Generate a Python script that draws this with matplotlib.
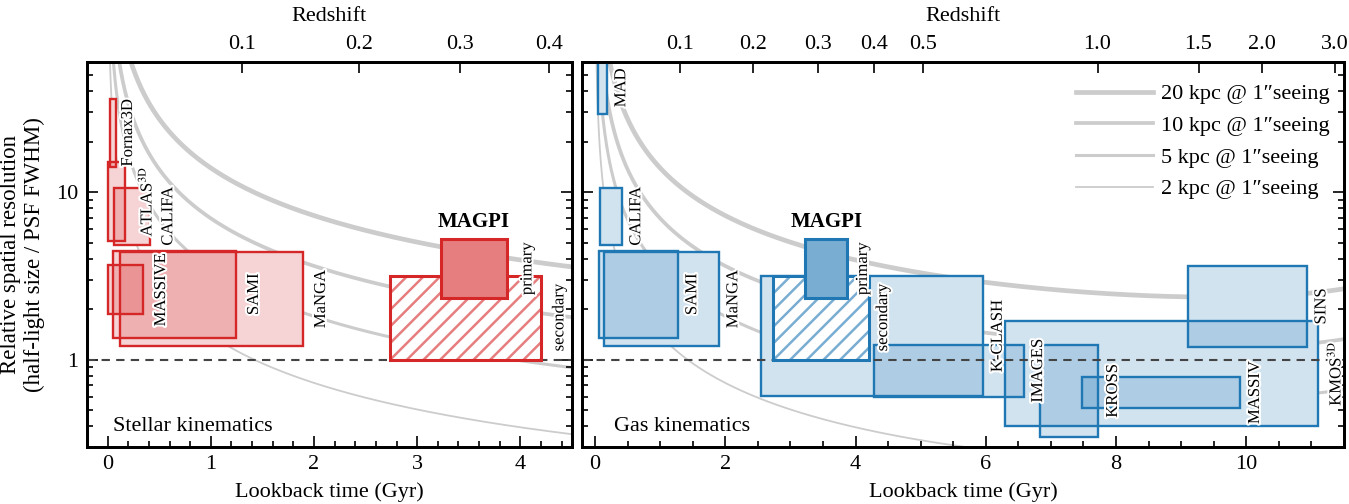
import numpy as np
import matplotlib
matplotlib.use('Agg')
import matplotlib.pyplot as plt
from matplotlib.patches import Rectangle
from matplotlib.lines import Line2D
import matplotlib.patheffects as pe
from matplotlib.ticker import LogLocator, NullFormatter, MultipleLocator

plt.rcParams['font.family'] = ['Liberation Serif', 'DejaVu Serif']
plt.rcParams['mathtext.fontset'] = 'stix'
plt.rcParams['hatch.linewidth'] = 1.8

# ---------------- data ----------------
stellar_names = ['Fornax3D', r'ATLAS$^{\rm 3D}$', 'CALIFA', 'MASSIVE', 'SAMI', 'MaNGA']
stellar_t0 = [0.02, 0.00, 0.06, 0.00, 0.05, 0.12]
stellar_t1 = [0.08, 0.17, 0.41, 0.34, 1.24, 1.89]
stellar_r0 = [14.2, 5.1, 4.85, 1.86, 1.35, 1.20]
stellar_r1 = [36.0, 15.1, 10.6, 3.65, 4.45, 4.39]
stellar_dx = [0.04, 0.1, 0.1, 0.1, 0.1, 0.1]

gas_names = ['MAD', 'CALIFA', 'SAMI', 'MaNGA', 'K-CLASH', 'IMAGES', 'KROSS',
             'MASSIV', r'KMOS$^{\rm 3D}$', 'SINS']
gas_t0 = [0.04, 0.07, 0.06, 0.14, 2.55, 4.28, 6.83, 7.47, 6.30, 9.11]
gas_t1 = [0.18, 0.41, 1.27, 1.90, 5.96, 6.58, 7.73, 9.91, 11.10, 10.93]
gas_r0 = [29.4, 4.85, 1.35, 1.20, 0.607, 0.60, 0.345, 0.51, 0.40, 1.19]
gas_r1 = [100.0, 10.6, 4.45, 4.39, 3.14, 1.22, 1.22, 0.787, 1.69, 3.62]

magpi_primary_t = [3.23, 3.87]
magpi_primary_r = [2.33, 5.22]
magpi_secondary_t = [2.74, 4.20]
magpi_secondary_r = [1.0, 3.17]

curve_sizes_kpc = [20, 10, 5, 2]
curve_lw = [3.4, 2.7, 2.2, 1.3]
curve_labels = ['20 kpc @ 1\u2033seeing', '10 kpc @ 1\u2033seeing',
                '5 kpc @ 1\u2033seeing', '2 kpc @ 1\u2033seeing']

z_ticks_left = [0.1, 0.2, 0.3, 0.4]
z_ticks_right = [0.1, 0.2, 0.3, 0.4, 0.5, 1.0, 1.5, 2.0, 3.0]
z_labels_left = ['0.1', '0.2', '0.3', '0.4']
z_labels_right = ['0.1', '0.2', '0.3', '0.4', '0.5', '1.0', '1.5', '2.0', '3.0']

# ---------------- cosmology (flat LCDM) ----------------
H0, Om = 70.0, 0.3
zgrid = np.linspace(0, 8, 80001)
dz = zgrid[1] - zgrid[0]
E = np.sqrt(Om * (1 + zgrid) ** 3 + 1 - Om)


def cumtrapz(f):
    out = np.zeros_like(f)
    out[1:] = np.cumsum(0.5 * (f[1:] + f[:-1]) * dz)
    return out


lookback = 977.79 / H0 * cumtrapz(1 / ((1 + zgrid) * E))
DC = 299792.458 / H0 * cumtrapz(1 / E)
DA = DC / (1 + zgrid)
kpc_per_arcsec = DA * 1000 * np.pi / 648000.0


def t_of_z(z):
    return np.interp(z, zgrid, lookback)


RED = '#d62728'
BLUE = '#1f77b4'
YLIM = (0.3, 60)
FS = 16


def blend(c, a):
    rgb = np.array(matplotlib.colors.to_rgb(c))
    return tuple(a * rgb + (1 - a) * np.ones(3))


stroke = [pe.withStroke(linewidth=3, foreground='white')]


def draw_box(ax, t0, t1, r0, r1, color, lw=1.7):
    w, h = t1 - t0, r1 - r0
    ax.add_patch(Rectangle((t0, r0), w, h, facecolor='white', edgecolor='none', zorder=2))
    ax.add_patch(Rectangle((t0, r0), w, h, facecolor=color, alpha=0.2, edgecolor='none', zorder=3))
    ax.add_patch(Rectangle((t0, r0), w, h, facecolor='none', edgecolor=color, lw=lw, zorder=4))


def box_label(ax, text, t1, r0, r1, dx=0.1, fs=12):
    ymid = np.sqrt(r0 * min(r1, YLIM[1]))
    ax.text(t1 + dx, ymid, text, rotation=90, ha='left', va='center', fontsize=fs,
            zorder=9, path_effects=stroke)


def draw_magpi(ax, color):
    t0, t1 = magpi_secondary_t
    r0, r1 = magpi_secondary_r
    ax.add_patch(Rectangle((t0, r0), t1 - t0, r1 - r0, facecolor='white',
                           edgecolor=blend(color, 0.6), lw=0, hatch='//', zorder=6))
    ax.add_patch(Rectangle((t0, r0), t1 - t0, r1 - r0, facecolor='none',
                           edgecolor=color, lw=2.2, zorder=6.5))
    p0, p1 = magpi_primary_t
    q0, q1 = magpi_primary_r
    ax.add_patch(Rectangle((p0, q0), p1 - p0, q1 - q0, facecolor=blend(color, 0.6),
                           edgecolor=color, lw=2.2, zorder=7))
    box_label(ax, 'primary', p1, q0, q1, dx=0.12)
    box_label(ax, 'secondary', t1, r0, r1, dx=0.1)
    ax.annotate('MAGPI', xy=(0.5 * (p0 + p1), q1), xytext=(0, 5), textcoords='offset points',
                ha='center', va='bottom', fontsize=15, fontweight='bold', zorder=9)


def setup_axes(ax, xlim, zt, zl, show_ylabels):
    ax.set_yscale('log')
    ax.set_xlim(*xlim)
    ax.set_ylim(*YLIM)
    for D, lw in zip(curve_sizes_kpc, curve_lw):
        ax.plot(lookback[1:], D / kpc_per_arcsec[1:], color='#cccccc', lw=lw, zorder=1,
                solid_capstyle='butt')
    ax.axhline(1.0, color='#444444', lw=1.5, ls=(0, (4, 3)), zorder=5)
    axt = ax.twiny()
    axt.set_xlim(*xlim)
    axt.set_xticks(t_of_z(np.array(zt)))
    axt.set_xticklabels(zl, fontsize=FS)
    axt.set_xlabel('Redshift', fontsize=FS, labelpad=10)
    axt.tick_params(axis='x', which='major', direction='in', length=8, width=1.2, pad=6)
    axt.xaxis.set_minor_locator(matplotlib.ticker.NullLocator())
    ax.tick_params(which='both', direction='in', top=False, right=True, width=1.2,
                   labelsize=FS)
    ax.tick_params(which='major', length=8, pad=6)
    ax.tick_params(which='minor', length=4)
    ax.set_yticks([1, 10])
    ax.yaxis.set_minor_locator(LogLocator(base=10, subs=np.arange(2, 10)))
    ax.yaxis.set_minor_formatter(NullFormatter())
    if show_ylabels:
        ax.set_yticklabels(['1', '10'])
    else:
        ax.set_yticklabels([])
    for a in (ax, axt):
        for s in a.spines.values():
            s.set_linewidth(2)
    ax.set_xlabel('Lookback time (Gyr)', fontsize=FS, labelpad=6)
    return axt


fig = plt.figure(figsize=(13.49, 5.04), dpi=100)
W, H = 1349, 504
ax1 = fig.add_axes([87 / W, 1 - 447 / H, (572 - 87) / W, (447 - 62) / H])
ax2 = fig.add_axes([582 / W, 1 - 447 / H, (1344 - 582) / W, (447 - 62) / H])

setup_axes(ax1, (-0.2, 4.5), z_ticks_left, z_labels_left, True)
setup_axes(ax2, (-0.2, 11.5), z_ticks_right, z_labels_right, False)

ax1.xaxis.set_major_locator(MultipleLocator(1))
ax1.xaxis.set_minor_locator(MultipleLocator(0.2))
ax2.xaxis.set_major_locator(MultipleLocator(2))
ax2.xaxis.set_minor_locator(MultipleLocator(0.5))

ax1.set_ylabel('Relative spatial resolution\n(half-light size / PSF FWHM)', fontsize=16.5,
               labelpad=8)

for i, name in enumerate(stellar_names):
    draw_box(ax1, stellar_t0[i], stellar_t1[i], stellar_r0[i], stellar_r1[i], RED)
    box_label(ax1, name, stellar_t1[i], stellar_r0[i], stellar_r1[i], dx=stellar_dx[i])
draw_magpi(ax1, RED)

for i, name in enumerate(gas_names):
    draw_box(ax2, gas_t0[i], gas_t1[i], gas_r0[i], gas_r1[i], BLUE)
    box_label(ax2, name, gas_t1[i], gas_r0[i], gas_r1[i], dx=0.1)
draw_magpi(ax2, BLUE)

ax1.text(0.054, 0.042, 'Stellar kinematics', transform=ax1.transAxes, fontsize=FS,
         ha='left', va='baseline', zorder=9)
ax2.text(0.042, 0.042, 'Gas kinematics', transform=ax2.transAxes, fontsize=FS,
         ha='left', va='baseline', zorder=9)

handles = [Line2D([0], [0], color='#cccccc', lw=lw) for lw in curve_lw]
leg = ax2.legend(handles, curve_labels, loc='upper right', bbox_to_anchor=(1.009, 0.998),
                 frameon=False, fontsize=16,
                 handlelength=3.45, handletextpad=0.36, labelspacing=0.5,
                 borderaxespad=0.55)
leg.set_zorder(10)

fig.savefig('out.png', dpi=100)
